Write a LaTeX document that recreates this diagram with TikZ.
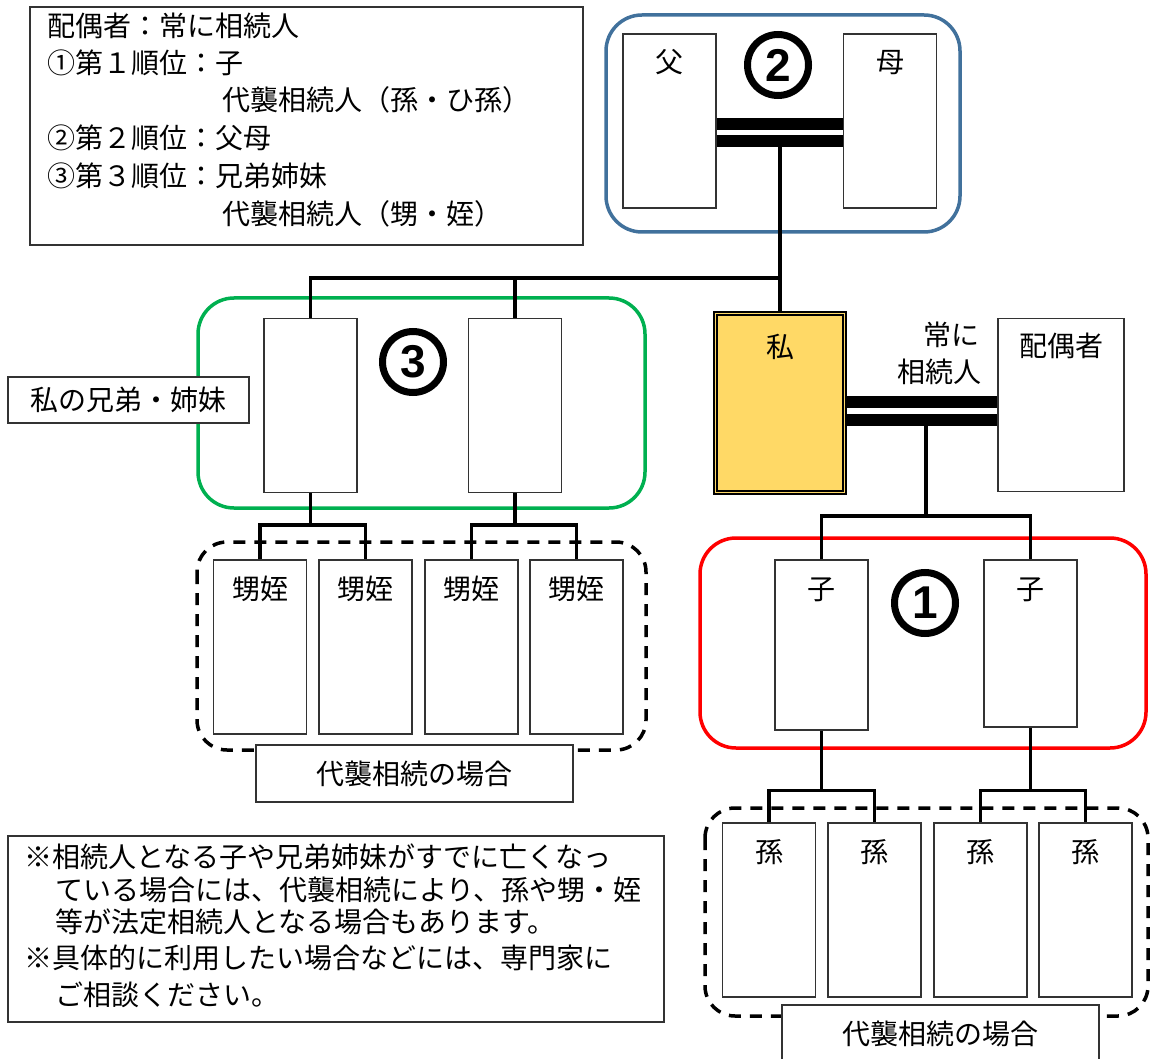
\documentclass[tikz,border=0pt]{standalone}
\usepackage{fontspec}
\setmainfont{Noto Sans CJK JP}
\newfontfamily\numfont{Liberation Sans}
\usepackage{tikz}
\usetikzlibrary{positioning,calc}
\definecolor{parentblue}{HTML}{41719C}
\definecolor{sibgreen}{HTML}{00B050}
\definecolor{childred}{HTML}{FF0000}
\definecolor{selfyellow}{HTML}{FFD966}
\tikzstyle{person}=[draw=black!80,line width=1.2pt,fill=white,minimum width=93pt,inner sep=0pt,text height=39pt,text depth=135pt,font=\fontsize{28}{28}\selectfont]
\tikzstyle{link}=[line width=3.5pt]
\tikzstyle{bar}=[line width=12pt]
\tikzstyle{rank}=[circle,draw,fill=white,line width=7pt,minimum size=61pt,inner sep=0pt,font=\numfont\bfseries\fontsize{46}{46}\selectfont]
\tikzstyle{group}=[line width=3.5pt,rounded corners=36pt]
\tikzstyle{maybe}=[line width=3.5pt,rounded corners=30pt,dash pattern=on 12pt off 9pt]
\tikzstyle{tag}=[draw=black!80,line width=1.2pt,fill=white,inner sep=0pt,font=\fontsize{28}{28}\selectfont]
\tikzstyle{textline}=[anchor=west,inner sep=0pt,text height=24pt,text depth=4pt,font=\fontsize{28}{28}\selectfont]

\begin{document}
\begin{tikzpicture}[x=1pt,y=-1pt]
  \useasboundingbox (0,0) rectangle (1151,1059);
  \clip (0,0) rectangle (1151,1059);
  % rank frames
  \draw[group,parentblue] (606,15) rectangle (960,232);
  \draw[group,sibgreen] (198,298) rectangle (645,508);
  \draw[group,childred] (700,538) rectangle (1146,748);
  \draw[maybe] (197,542) rectangle (646,750);
  \draw[maybe] (705,808) rectangle (1148,1016);
  % family members
  \node[person] (fa) at (669.5,121) {父};
  \node[person] (mo) at (890,121) {母};
  \node[person] (sib1) at (310.5,405.5) {};
  \node[person] (sib2) at (515,405.5) {};
  \node[person,draw=black,line width=1.8pt,double=selfyellow,double distance=1.5pt,fill=selfyellow,minimum width=129pt,text height=44pt] (me) at (780,403) {私};
  \node[person,minimum width=126pt,text height=38pt] (sp) at (1061,405) {配偶者};
  \node[person,text depth=131pt] (ch1) at (821.5,645) {子};
  \node[person,text depth=128pt] (ch2) at (1030.5,643.5) {子};
  \foreach \x [count=\i] in {260,365.5,471.5,576.5}
    \node[person] (ne\i) at (\x,647) {甥姪};
  \foreach \x [count=\i] in {769,874.5,980.5,1085.5}
    \node[person] (gc\i) at (\x,910) {孫};
  % lines
  \coordinate (parbar) at (780,142);
  \coordinate (sibfork) at (780,278);
  \draw[link] (parbar) -- (me.north);
  \draw[link] (sib1.north) |- (sibfork);
  \draw[link] (sib2.north) -- (sib2.north |- sibfork);
  \draw[bar] ([yshift=-3pt]fa.east) -- ([yshift=-3pt]mo.west);
  \draw[bar] ([yshift=-20.5pt]fa.east) -- ([yshift=-20.5pt]mo.west);
  \draw[bar] ([yshift=1.5pt]me.east) -- ([yshift=1.5pt]me.east -| sp.west);
  \draw[bar] ([yshift=-16.5pt]me.east) -- ([yshift=-16.5pt]me.east -| sp.west);
  \coordinate (spbar) at (926,419);
  \coordinate (kidfork) at (926,516);
  \draw[link] (spbar) -- (kidfork);
  \draw[link] (ch1.north) |- (kidfork) -| (ch2.north);
  \draw[link] (ch1.south) -- ([yshift=-60pt]ch1.south) coordinate (gf1);
  \draw[link] (gc1.north) |- (gf1) -| (gc2.north);
  \draw[link] (ch2.south) -- (ch2.south |- gf1) coordinate (gf2);
  \draw[link] (gc3.north) |- (gf2) -| (gc4.north);
  \draw[link] (sib1.south) -- ([yshift=-32pt]sib1.south) coordinate (nf1);
  \draw[link] (ne1.north) |- (nf1) -| (ne2.north);
  \draw[link] (sib2.south) -- (sib2.south |- nf1) coordinate (nf2);
  \draw[link] (ne3.north) |- (nf2) -| (ne4.north);
  % ranks
  \node[rank] (r2) at (778,65) {2};
  \node[rank] (r3) at (413,362) {3};
  \node[rank] (r1) at (925,603) {1};
  \node[textline,anchor=east] (always1) at (980,335) {常に};
  \node[textline,anchor=east] (always2) at (982,372) {相続人};
  % labels
  \node[tag,minimum width=241pt,minimum height=46pt] (siblabel) at (128.5,400) {私の兄弟・姉妹};
  \node[tag,minimum width=317pt,minimum height=57pt] (dai1) at (414.5,773.5) {代襲相続の場合};
  \node[tag,minimum width=317pt,minimum height=58pt] (dai2) at (940.5,1034) {代襲相続の場合};
  % legend
  \node[tag,minimum width=553pt,minimum height=238pt] (legend) at (306.5,126) {};
  \node[textline] (leg1) at (47,27) {配偶者：常に相続人};
  \node[textline] (leg2) at (47,64) {①第１順位：子};
  \node[textline] (leg3) at (222,101) {代襲相続人（孫・ひ孫）};
  \node[textline] (leg4) at (47,139) {②第２順位：父母};
  \node[textline] (leg5) at (47,177) {③第３順位：兄弟姉妹};
  \node[textline] (leg6) at (222,215) {代襲相続人（甥・姪）};
  % note
  \node[tag,minimum width=656pt,minimum height=186pt] (note) at (336,929) {};
  \node[textline] (note1) at (24,857) {※相続人となる子や兄弟姉妹がすでに亡くなっ};
  \node[textline] (note2) at (55,890) {ている場合には、代襲相続により、孫や甥・姪};
  \node[textline] (note3) at (55,922) {等が法定相続人となる場合もあります。};
  \node[textline] (note4) at (24,958) {※具体的に利用したい場合などには、専門家に};
  \node[textline] (note5) at (55,995) {ご相談ください。};
\end{tikzpicture}
\end{document}
